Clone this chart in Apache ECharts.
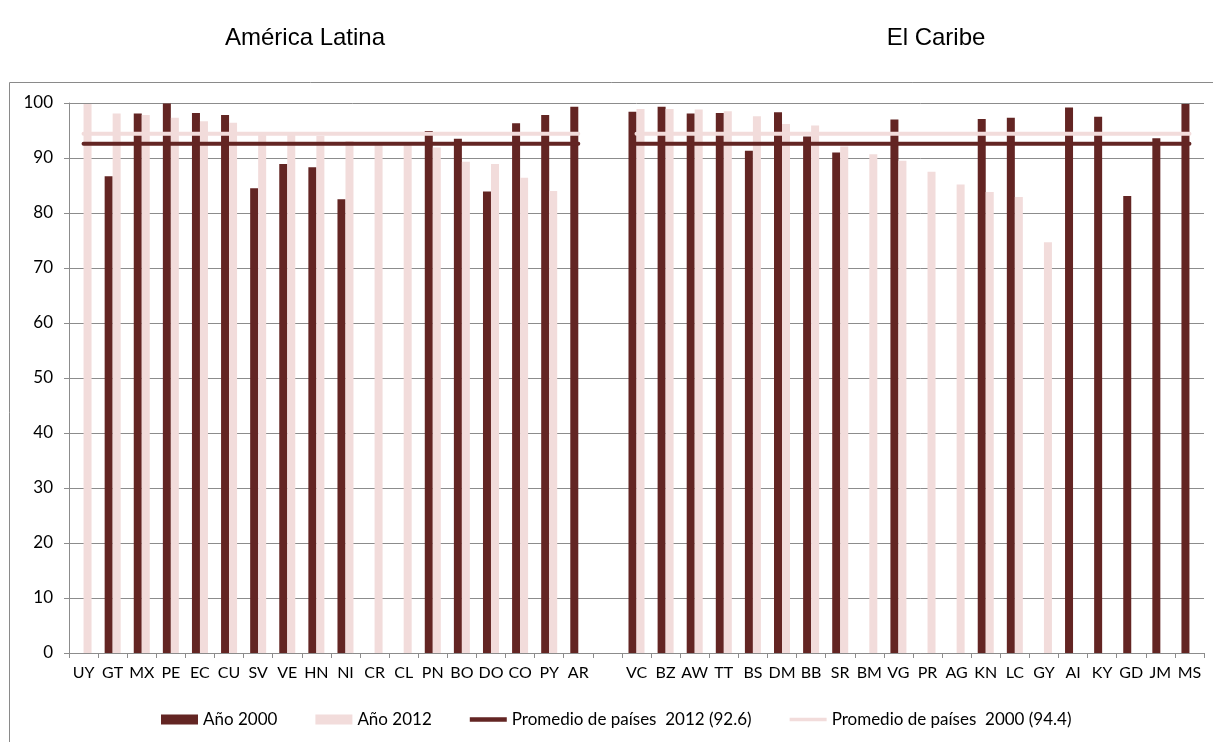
<!DOCTYPE html>
<html>
<head>
<meta charset="utf-8">
<title>Promedio de países</title>
<script src="https://cdn.jsdelivr.net/npm/echarts@6/dist/echarts.min.js"></script>
<style>
  html, body { margin: 0; padding: 0; background: #ffffff; }
  #chart { width: 1213px; height: 742px; }
</style>
</head>
<body>
<div id="chart"></div>
<script>
// Country codes, grouped by region
const latinCountries = ['UY','GT','MX','PE','EC','CU','SV','VE','HN','NI','CR','CL','PN','BO','DO','CO','PY','AR'];
const caribeCountries = ['VC','BZ','AW','TT','BS','DM','BB','SR','BM','VG','PR','AG','KN','LC','GY','AI','KY','GD','JM','MS'];

// Values per country, year 2000 and year 2012 (null = no data)
const latin2000 = [null, 86.7, 98.1, 99.9, 98.2, 97.8, 84.5, 88.9, 88.3, 82.5, null, null, 94.9, 93.5, 83.9, 96.3, 97.8, 99.3];
const latin2012 = [99.8, 98.1, 97.8, 97.3, 96.7, 96.4, 94.3, 94.3, 94.0, 93.1, 92.4, 92.4, 91.9, 89.3, 88.9, 86.4, 84.0, null];
const caribe2000 = [98.4, 99.3, 98.1, 98.2, 91.3, 98.3, 93.9, 91.0, null, 97.0, null, null, 97.1, 97.3, null, 99.2, 97.5, 83.1, 93.6, 99.8];
const caribe2012 = [98.9, 98.9, 98.8, 98.5, 97.6, 96.2, 95.9, 92.1, 90.7, 89.5, 87.5, 85.2, 83.8, 82.9, 74.7, null, null, null, null, null];

// Country averages shown as horizontal reference lines
const avgDark = 92.6;
const avgLight = 94.4;

// Series names and region titles
const seriesNames = ['Año 2000', 'Año 2012', 'Promedio de países  2012 (92.6)', 'Promedio de países  2000 (94.4)'];
const regionTitles = ['América Latina', 'El Caribe'];

// Y axis scale
const yMin = 0, yMax = 100, yStep = 10;

// One shared category axis with an empty slot between the two regions
const categories = latinCountries.concat([''], caribeCountries);
const joinRegions = (a, b) => a.concat([null], b);
const bars2000 = joinRegions(latin2000, caribe2000);
const bars2012 = joinRegions(latin2012, caribe2012);
const lineDark = joinRegions(latinCountries.map(() => avgDark), caribeCountries.map(() => avgDark));
const lineLight = joinRegions(latinCountries.map(() => avgLight), caribeCountries.map(() => avgLight));

const DARK = '#632523';
const LIGHT = '#F2DCDB';
const GRID_GRAY = '#8C8C8C';
const FONT = 'Lato, "Open Sans", sans-serif';

// Legend icons for the average lines: a horizontal stroke inside a 40x10 box
// (the tiny corner triangles only fix the box so the stroke keeps its thickness)
const lineIcon = (y0, y1) =>
  'path://M0,0 L0.01,0 L0,0.01 Z M40,10 L39.99,10 L40,9.99 Z ' +
  `M0,${y0} L40,${y0} L40,${y1} L0,${y1} Z`;

const chart = echarts.init(document.getElementById('chart'));
chart.setOption({
  animation: false,
  backgroundColor: '#ffffff',
  textStyle: { fontFamily: FONT },
  graphic: [
    {
      type: 'rect',
      shape: { x: 9.5, y: 82.5, width: 1260, height: 720 },
      style: { fill: 'none', stroke: '#8a8a8a', lineWidth: 1 },
      silent: true, z: -1
    },
    {
      type: 'text', x: 305, y: 38,
      style: { text: regionTitles[0], fontFamily: '"Liberation Sans", Arial, sans-serif', fontSize: 24, fill: '#000', align: 'center', verticalAlign: 'middle' }
    },
    {
      type: 'text', x: 936, y: 38,
      style: { text: regionTitles[1], fontFamily: '"Liberation Sans", Arial, sans-serif', fontSize: 24, fill: '#000', align: 'center', verticalAlign: 'middle' }
    }
  ],
  grid: { left: 69, right: 9, top: 103, bottom: 89, containLabel: false },
  legend: {
    left: 156, top: 706,
    itemWidth: 37, itemHeight: 10, itemGap: 38,
    textStyle: { fontFamily: FONT, fontSize: 17, color: '#000' },
    data: [
      { name: seriesNames[0], icon: 'rect' },
      { name: seriesNames[1], icon: 'rect' },
      { name: seriesNames[2], icon: lineIcon(2.5, 7.5), itemStyle: { color: DARK } },
      { name: seriesNames[3], icon: lineIcon(3, 7), itemStyle: { color: LIGHT } }
    ]
  },
  xAxis: {
    type: 'category',
    data: categories,
    boundaryGap: true,
    axisLine: { lineStyle: { color: GRID_GRAY, width: 1 } },
    axisTick: { show: true, alignWithLabel: false, interval: 0, length: 5, lineStyle: { color: GRID_GRAY } },
    axisLabel: { interval: 0, margin: 12, fontFamily: FONT, fontSize: 16, color: '#000' },
    splitLine: { show: false }
  },
  yAxis: {
    type: 'value',
    min: yMin, max: yMax, interval: yStep,
    axisLine: { show: true, lineStyle: { color: GRID_GRAY, width: 1 } },
    axisTick: { show: true, length: 5, lineStyle: { color: GRID_GRAY } },
    axisLabel: { margin: 16, fontFamily: FONT, fontSize: 17, color: '#000' },
    splitLine: { show: true, lineStyle: { color: GRID_GRAY, width: 1 } }
  },
  series: [
    {
      name: seriesNames[0], type: 'bar', data: bars2000,
      barGap: '0%', barCategoryGap: '45%',
      itemStyle: { color: DARK }, z: 2
    },
    {
      name: seriesNames[1], type: 'bar', data: bars2012,
      barGap: '0%', barCategoryGap: '45%',
      itemStyle: { color: LIGHT }, z: 2
    },
    {
      name: seriesNames[2], type: 'line', data: lineDark,
      symbol: 'none', connectNulls: false,
      lineStyle: { color: DARK, width: 4, cap: 'round' },
      itemStyle: { color: DARK }, z: 4
    },
    {
      name: seriesNames[3], type: 'line', data: lineLight,
      symbol: 'none', connectNulls: false,
      lineStyle: { color: LIGHT, width: 4, cap: 'round' },
      itemStyle: { color: LIGHT }, z: 3
    }
  ]
});
</script>
</body>
</html>
